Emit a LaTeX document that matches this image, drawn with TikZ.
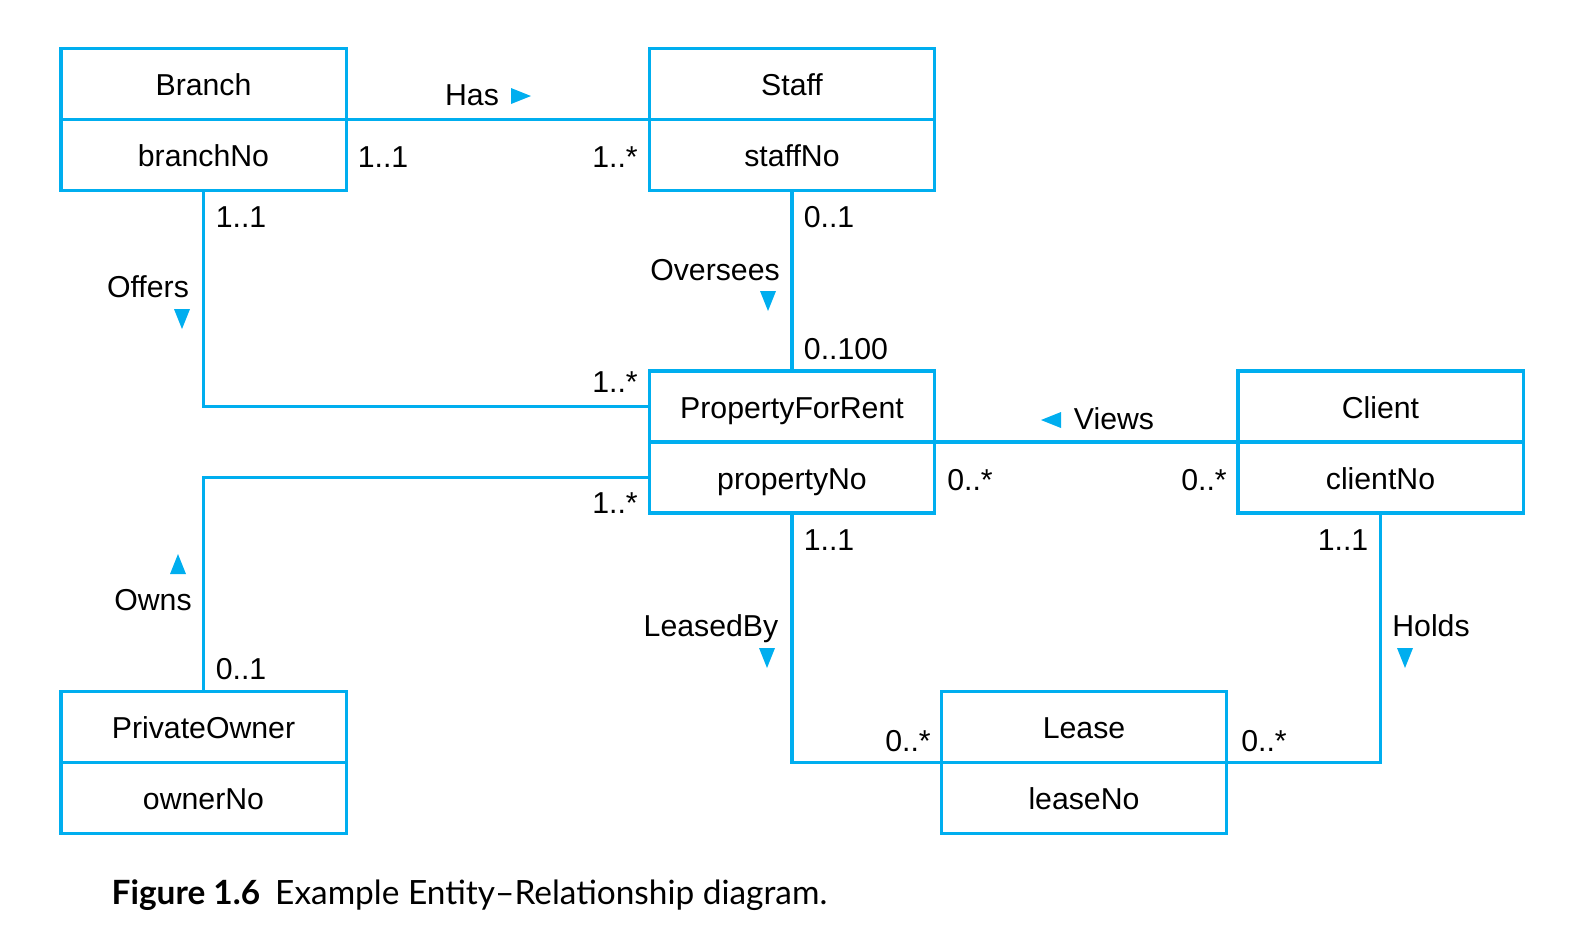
\documentclass[tikz,border=0pt]{standalone}
\usepackage{fontspec}
\setmainfont{Liberation Sans}
\newfontfamily\captionfont{Lato}
\usetikzlibrary{positioning}

\definecolor{erblue}{RGB}{0,174,239}

\tikzset{
  entity/.style={draw=erblue, line width=0.9pt, minimum width=2.85cm, minimum height=0.71cm,
    inner sep=0pt, outer sep=0pt, text height=0.86em, text depth=0.2em,
    font=\fontsize{8.6}{10}\selectfont},
  rel/.style={draw=erblue, line width=0.9pt},
  lbl/.style={inner sep=0pt, text height=0.86em, text depth=0.2em, font=\fontsize{8.6}{10}\selectfont},
  tri/.pic={\fill[erblue] (-8,-10) -- (8,-10) -- (0,10) -- cycle;}
}

\begin{document}
\begin{tikzpicture}[x=0.01cm, y=-0.01cm]
        \useasboundingbox (0,0) rectangle (1578,942);
        % entities: name on top, key below
        \node[entity] (branch) at (203.5,84) {Branch};
        \node[entity, below=0pt of branch] (branchkey) {branchNo};
        \node[entity] (staff) at (792,84) {Staff};
        \node[entity, below=0pt of staff] (staffkey) {staffNo};
        \node[entity] (pfr) at (792,406.5) {PropertyForRent};
        \node[entity, below=0pt of pfr] (pfrkey) {propertyNo};
        \node[entity] (client) at (1380.5,406.5) {Client};
        \node[entity, below=0pt of client] (clientkey) {clientNo};
        \node[entity] (owner) at (203.5,727) {PrivateOwner};
        \node[entity, below=0pt of owner] (ownerkey) {ownerNo};
        \node[entity] (lease) at (1084,727) {Lease};
        \node[entity, below=0pt of lease] (leasekey) {leaseNo};

        % relationships
        \draw[rel] (branch.south east) -- (staff.south west);
        \draw[rel] (branchkey.south) |- (pfr.west);
        \draw[rel] (staffkey.south) -- (pfr.north);
        \draw[rel] (pfrkey.west) -| (owner.north);
        \draw[rel] (pfr.south east) -- (client.south west);
        \draw[rel] (pfrkey.south) |- (lease.south west);
        \draw[rel] (clientkey.south) |- (lease.south east);

        % relationship names with direction marks
        \node[lbl] (has) at (472,94) {Has};
        \pic[rotate=90] at (521,96) {tri};
        \node[lbl] (offers) at (148,286) {Offers};
        \pic at (182,319) {tri};
        \node[lbl] (oversees) at (715,269) {Oversees};
        \pic at (768,301) {tri};
        \node[lbl] (owns) at (153,599) {Owns};
        \pic[rotate=180] at (178,564) {tri};
        \node[lbl] (views) at (1114,418) {Views};
        \pic[rotate=-90] at (1051,420) {tri};
        \node[lbl] (leasedby) at (711,625) {LeasedBy};
        \pic at (767,658) {tri};
        \node[lbl] (holds) at (1431,625) {Holds};
        \pic at (1405,658) {tri};

        % multiplicities
        \node[lbl] (m1) at (383,156) {1..1};
        \node[lbl] (m2) at (615,156) {1..*};
        \node[lbl] (m3) at (241,216) {1..1};
        \node[lbl] (m4) at (829,216) {0..1};
        \node[lbl] (m5) at (846,348) {0..100};
        \node[lbl] (m6) at (615,381) {1..*};
        \node[lbl] (m7) at (615,502) {1..*};
        \node[lbl] (m8) at (970,479) {0..*};
        \node[lbl] (m9) at (1204,479) {0..*};
        \node[lbl] (m10) at (829,539) {1..1};
        \node[lbl] (m11) at (1343,539) {1..1};
        \node[lbl] (m12) at (241,668) {0..1};
        \node[lbl] (m13) at (908,740) {0..*};
        \node[lbl] (m14) at (1264,740) {0..*};

        % caption
        \node[anchor=west, inner sep=0pt, font=\captionfont\fontsize{9.5}{12}\selectfont] (caption) at (111,895)
          {\textbf{Figure 1.6}\hspace{0.45em}Example Entity–Relationship diagram.};
      \end{tikzpicture}
\end{document}
